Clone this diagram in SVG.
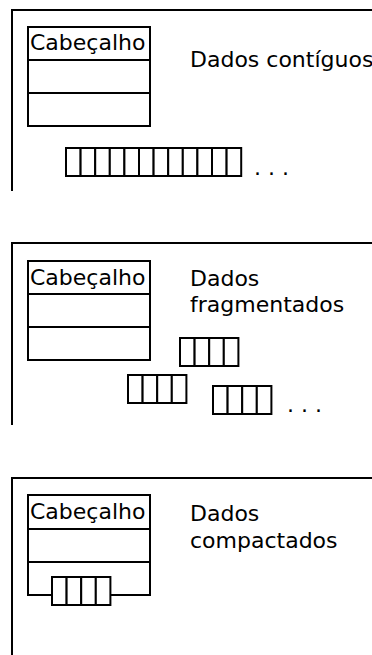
<svg xmlns="http://www.w3.org/2000/svg" width="372" height="655" viewBox="0 0 372 655">
<style>
.l{fill:none;stroke:#000;stroke-width:2}
.c{fill:#fff;stroke:#000;stroke-width:2}
.t{font-family:"DejaVu Sans",sans-serif;font-size:22px;fill:#000}
</style>
<defs>
<g id="cell"><rect class="c" x="0" y="0" width="14.6" height="28"/></g>
<g id="frag">
<use href="#cell" x="0"/><use href="#cell" x="14.6"/><use href="#cell" x="29.2"/><use href="#cell" x="43.8"/>
</g>
</defs>
<g id="panel1">
<path class="l" d="M12,191 V10 H372"/>
<g id="header1">
<rect class="l" x="28" y="27" width="122" height="99"/>
<path class="l" d="M28,60 H150 M28,93 H150"/>
<text class="t" x="30" y="50">Cabeçalho</text>
</g>
<text class="t" x="190" y="67">Dados contíguos</text>
<g id="contig">
<use href="#frag" x="66" y="148"/><use href="#frag" x="124.4" y="148"/><use href="#frag" x="182.8" y="148"/>
</g>
<text class="t" x="254" y="175">. . .</text>
</g>
<g id="panel2">
<path class="l" d="M12,425 V243 H372"/>
<g id="header2">
<rect class="l" x="28" y="261" width="122" height="99"/>
<path class="l" d="M28,294 H150 M28,327 H150"/>
<text class="t" x="30" y="285">Cabeçalho</text>
</g>
<text class="t" x="190" y="286">Dados</text>
<text class="t" x="190" y="312">fragmentados</text>
<use href="#frag" x="180" y="338"/>
<use href="#frag" x="128" y="375"/>
<use href="#frag" x="213" y="386"/>
<text class="t" x="287" y="412">. . .</text>
</g>
<g id="panel3">
<path class="l" d="M12,655 V478 H372"/>
<g id="header3">
<path class="l" d="M52,595 H28 V495 H150 V595 H111 M28,529 H150 M28,562 H150"/>
<text class="t" x="30" y="519">Cabeçalho</text>
</g>
<text class="t" x="190" y="521">Dados</text>
<text class="t" x="190" y="548">compactados</text>
<use href="#frag" x="52" y="577"/>
</g>
</svg>
